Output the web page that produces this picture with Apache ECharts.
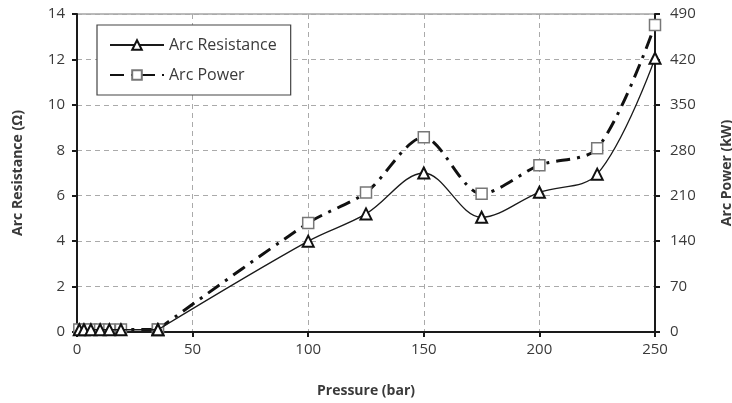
<!DOCTYPE html>
<html>
<head>
<meta charset="utf-8">
<script src="https://cdn.jsdelivr.net/npm/echarts@6/dist/echarts.min.js"></script>
<style>
  html, body { margin: 0; padding: 0; background: #fff; }
  #chart { width: 732px; height: 403px; }
</style>
</head>
<body>
<div id="chart"></div>
<script>
// Pressure values (bar) at which arc measurements were taken
const pressure = [1, 3, 6, 10, 14, 19, 35, 100, 125, 150, 175, 200, 225, 250];
// Arc resistance in ohms
const arcResistance = [0.1, 0.1, 0.1, 0.1, 0.1, 0.1, 0.1, 4.0, 5.2, 7.0, 5.05, 6.15, 6.95, 12.05];
// Arc power in kW
const arcPower = [4, 4, 4, 4, 4, 4, 4, 168, 215, 300, 213, 257, 283, 473];

// Low-pressure points are joined straight; the curve is smoothed from this pressure on
const smoothFrom = 35;

const xTicks = { min: 0, max: 250, interval: 50 };
const leftTicks = { min: 0, max: 14, interval: 2 };
const rightTicks = { min: 0, max: 490, interval: 70 };

const FONT = '"Open Sans", "Liberation Sans", sans-serif';
const labelStyle = { color: '#3a3a3a', fontSize: 15, fontFamily: FONT };
const nameStyle = { color: '#3a3a3a', fontSize: 14, fontWeight: 'bold', fontFamily: FONT };
const gridLine = { show: true, lineStyle: { color: '#aaa', type: [5, 4], width: 1 } };
const axisLine = { show: true, lineStyle: { color: '#1a1a1a', width: 2 } };
const tick = { show: true, length: 5, lineStyle: { color: '#1a1a1a', width: 2 } };

const pairs = (xs, ys) => xs.map((x, i) => [x, ys[i]]);
const lowPart = (xs, ys) => pairs(xs, ys).filter(p => p[0] <= smoothFrom);
const highPart = (xs, ys) => pairs(xs, ys).filter(p => p[0] >= smoothFrom);

const powerStyle = {
  name: 'Arc Power', type: 'line', yAxisIndex: 1,
  symbol: 'rect', symbolSize: 11,
  lineStyle: { color: '#111', width: 3, type: [14, 7, 3, 7] },
  itemStyle: { color: '#fff', borderColor: '#777', borderWidth: 1.5 },
  z: 3
};
const resistanceStyle = {
  name: 'Arc Resistance', type: 'line', yAxisIndex: 0,
  symbol: 'triangle', symbolSize: 11,
  lineStyle: { color: '#1a1a1a', width: 1.3 },
  itemStyle: { color: '#fff', borderColor: '#111', borderWidth: 2 },
  z: 4
};

const chart = echarts.init(document.getElementById('chart'));
chart.setOption({
  animation: false,
  backgroundColor: '#fff',
  grid: {
    left: 77, right: 77, top: 14, bottom: 71,
    outerBoundsMode: 'none',
    containLabel: false,
    show: true, borderColor: '#777', borderWidth: 1
  },
  legend: {
    left: 97, top: 25,
    orient: 'vertical',
    itemWidth: 54, itemHeight: 12, itemGap: 14,
    padding: [12, 14, 12, 12],
    borderColor: '#444', borderWidth: 1.2,
    backgroundColor: '#fff',
    textStyle: { color: '#3a3a3a', fontSize: 16, fontFamily: FONT },
    data: ['Arc Resistance', 'Arc Power']
  },
  xAxis: {
    type: 'value',
    min: xTicks.min, max: xTicks.max, interval: xTicks.interval,
    name: 'Pressure (bar)', nameLocation: 'middle', nameGap: 52,
    nameTextStyle: nameStyle,
    axisLine: axisLine,
    axisTick: tick,
    axisLabel: Object.assign({ margin: 10 }, labelStyle),
    splitLine: gridLine
  },
  yAxis: [
    {
      type: 'value', position: 'left',
      min: leftTicks.min, max: leftTicks.max, interval: leftTicks.interval,
      name: 'Arc Resistance (Ω)', nameLocation: 'middle', nameGap: 52, nameRotate: 90,
      nameTextStyle: nameStyle,
      axisLine: axisLine,
      axisTick: tick,
      axisLabel: Object.assign({ margin: 12 }, labelStyle),
      splitLine: gridLine
    },
    {
      type: 'value', position: 'right',
      min: rightTicks.min, max: rightTicks.max, interval: rightTicks.interval,
      name: 'Arc Power (kW)', nameLocation: 'middle', nameGap: 65, nameRotate: 90,
      nameTextStyle: nameStyle,
      axisLine: axisLine,
      axisTick: tick,
      axisLabel: Object.assign({ margin: 15 }, labelStyle),
      splitLine: { show: false }
    }
  ],
  series: [
    Object.assign({}, powerStyle, { data: lowPart(pressure, arcPower), smooth: false }),
    Object.assign({}, powerStyle, { data: highPart(pressure, arcPower), smooth: 0.3 }),
    Object.assign({}, resistanceStyle, { data: lowPart(pressure, arcResistance), smooth: false }),
    Object.assign({}, resistanceStyle, { data: highPart(pressure, arcResistance), smooth: 0.35 })
  ]
});
</script>
</body>
</html>
